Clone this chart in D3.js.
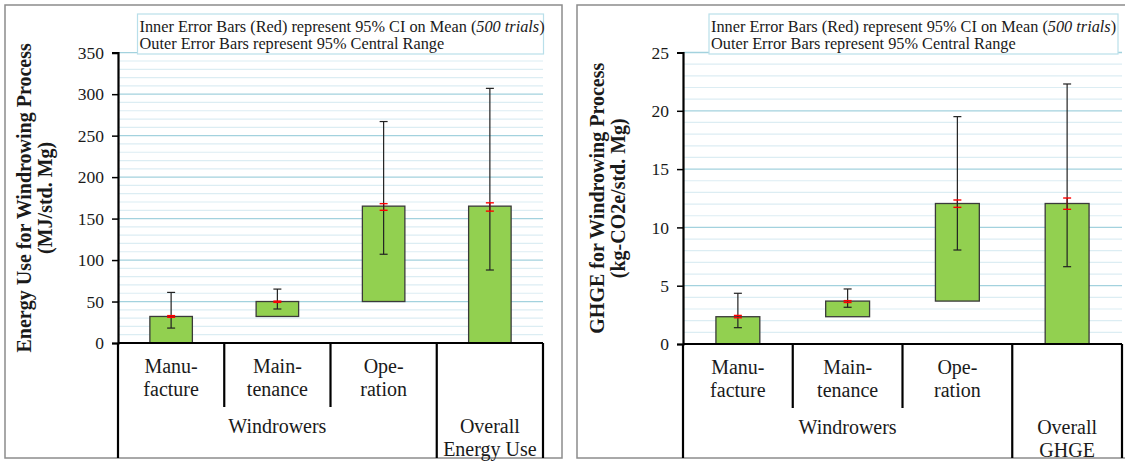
<!DOCTYPE html>
<html>
<head>
<meta charset="utf-8">
<script src="https://cdn.jsdelivr.net/npm/d3@7"></script>
<style>
  html, body { margin: 0; padding: 0; background: #fff; }
  svg { display: block; }
  text { font-family: "Liberation Serif", "DejaVu Serif", serif; fill: #1a1a1a; }
</style>
</head>
<body>
<svg id="chart" width="1125" height="461"></svg>
<script>
// Process stages (two text lines each) and their grouping on the category axis
const stageLabels = [["Manu-", "facture"], ["Main-", "tenance"], ["Ope-", "ration"], []];
const groupLabels = ["Windrowers"];
const energyTotalLabel = ["Overall", "Energy Use"];
const ghgeTotalLabel = ["Overall", "GHGE"];

// Energy use (MJ/std. Mg): floating bars from base to top, cumulative scale
const energyBase = [0, 32, 50, 0];
const energyTop = [32, 50, 165, 165];
const energyOuterLow = [18, 41, 107, 88];
const energyOuterHigh = [61, 65, 267, 307];
const energyInnerLow = [31, 49, 160, 159];
const energyInnerHigh = [33, 50.5, 168, 169];
const energyTicks = [0, 50, 100, 150, 200, 250, 300, 350];

// GHGE (kg-CO2e/std. Mg)
const ghgeBase = [0, 2.34, 3.68, 0];
const ghgeTop = [2.34, 3.68, 12.05, 12.05];
const ghgeOuterLow = [1.4, 3.15, 8.06, 6.63];
const ghgeOuterHigh = [4.35, 4.72, 19.5, 22.3];
const ghgeInnerLow = [2.25, 3.56, 11.72, 11.55];
const ghgeInnerHigh = [2.45, 3.72, 12.35, 12.52];
const ghgeTicks = [0, 5, 10, 15, 20, 25];

const legendLine1 = ["Inner Error Bars (Red) represent 95% CI on Mean (", "500 trials", ")"];
const legendLine2 = "Outer Error Bars represent 95% Central Range";

const svg = d3.select("#chart");

const LABEL_SIZE = 20;
const TICK_SIZE = 17.5;
const LEGEND_SIZE = 16.3;

const panels = [
  {
    frame: [5, 5, 557, 453],
    x: [118, 543], y: [343, 52.7],
    max: 350, ticks: energyTicks, minorStep: 10,
    base: energyBase, top: energyTop,
    outerLow: energyOuterLow, outerHigh: energyOuterHigh,
    innerLow: energyInnerLow, innerHigh: energyInnerHigh,
    title: ["Energy Use for Windrowing Process", "(MJ/std. Mg)"],
    titleX: [31, 52],
    total: energyTotalLabel,
    legend: [137.5, 14, 406, 40]
  },
  {
    frame: [577, 5, 560, 453],
    x: [683, 1122], y: [344, 52.5],
    max: 25, ticks: ghgeTicks, minorStep: 1,
    base: ghgeBase, top: ghgeTop,
    outerLow: ghgeOuterLow, outerHigh: ghgeOuterHigh,
    innerLow: ghgeInnerLow, innerHigh: ghgeInnerHigh,
    title: ["GHGE for Windrowing Process", "(kg-CO2e/std. Mg)"],
    titleX: [604, 625],
    total: ghgeTotalLabel,
    legend: [709, 14, 409, 40]
  }
];

panels.forEach(p => {
  const g = svg.append("g");
  const [fx, fy, fw, fh] = p.frame;
  const bottom = fy + fh;

  const y = d3.scaleLinear().domain([0, p.max]).range(p.y);
  const x = d3.scaleBand().domain(d3.range(4)).range(p.x).padding(0);
  const bw = x.bandwidth() * 0.4;
  const cx = i => x(i) + x.bandwidth() / 2;

  // outer frame
  g.append("rect")
    .attr("x", fx).attr("y", fy).attr("width", fw).attr("height", fh)
    .attr("fill", "#fff").attr("stroke", "#8c8c8c").attr("stroke-width", 1.5);

  // minor and major gridlines
  const minor = d3.range(0, p.max + 1e-9, p.minorStep).filter(v => !p.ticks.includes(v));
  g.append("g").selectAll("line").data(minor).join("line")
    .attr("x1", p.x[0]).attr("x2", p.x[1])
    .attr("y1", d => y(d)).attr("y2", d => y(d))
    .attr("stroke", "#dcedf3").attr("stroke-width", 1.2);
  g.append("g").selectAll("line").data(p.ticks.filter(t => t > 0)).join("line")
    .attr("x1", p.x[0]).attr("x2", p.x[1])
    .attr("y1", d => y(d)).attr("y2", d => y(d))
    .attr("stroke", "#a3d2de").attr("stroke-width", 1.3);

  // legend box
  const [lx, ly, lw, lh] = p.legend;
  g.append("rect").attr("x", lx).attr("y", ly).attr("width", lw).attr("height", lh)
    .attr("fill", "#fff").attr("stroke", "#b9dfea").attr("stroke-width", 1.2);
  const t1 = g.append("text").attr("x", lx + 2).attr("y", ly + 17.5)
    .attr("font-size", LEGEND_SIZE);
  t1.append("tspan").text(legendLine1[0]);
  t1.append("tspan").attr("font-style", "italic").text(legendLine1[1]);
  t1.append("tspan").text(legendLine1[2]);
  g.append("text").attr("x", lx + 2).attr("y", ly + 34.5)
    .attr("font-size", LEGEND_SIZE).text(legendLine2);

  // bars
  g.append("g").selectAll("rect").data(d3.range(4)).join("rect")
    .attr("x", i => cx(i) - bw / 2)
    .attr("width", bw)
    .attr("y", i => y(p.top[i]))
    .attr("height", i => y(p.base[i]) - y(p.top[i]))
    .attr("fill", "#92d050").attr("stroke", "#3a3a3a").attr("stroke-width", 1.3);

  // error bars: red inner stem, black outer bar, red inner caps on top
  const cap = 4;
  const eb = g.append("g");
  d3.range(4).forEach(i => {
    eb.append("line").attr("x1", cx(i)).attr("x2", cx(i))
      .attr("y1", y(p.innerLow[i])).attr("y2", y(p.innerHigh[i]))
      .attr("stroke", "#e00000").attr("stroke-width", 1.2);
    eb.append("line").attr("x1", cx(i)).attr("x2", cx(i))
      .attr("y1", y(p.outerLow[i])).attr("y2", y(p.outerHigh[i]))
      .attr("stroke", "#222").attr("stroke-width", 1.2);
    [p.outerLow[i], p.outerHigh[i]].forEach(v => {
      eb.append("line").attr("x1", cx(i) - cap).attr("x2", cx(i) + cap)
        .attr("y1", y(v)).attr("y2", y(v))
        .attr("stroke", "#222").attr("stroke-width", 1.2);
    });
    [p.innerLow[i], p.innerHigh[i]].forEach(v => {
      eb.append("line").attr("x1", cx(i) - cap).attr("x2", cx(i) + cap)
        .attr("y1", y(v)).attr("y2", y(v))
        .attr("stroke", "#ff0000").attr("stroke-width", 1.4);
    });
  });

  // y axis
  const yAxis = d3.axisLeft(y).tickValues(p.ticks).tickSize(6).tickPadding(8)
    .tickFormat(d3.format("d"));
  const ya = g.append("g").attr("transform", `translate(${p.x[0]},0)`).call(yAxis);
  ya.select(".domain").attr("stroke", "#000").attr("stroke-width", 2.2);
  ya.selectAll(".tick line").attr("stroke", "#000").attr("stroke-width", 1.5);
  ya.selectAll(".tick text").attr("font-size", TICK_SIZE).attr("fill", "#1a1a1a")
    .attr("font-family", "Liberation Serif");

  // category axis: baseline and divider lines
  g.append("line").attr("x1", p.x[0]).attr("x2", p.x[1])
    .attr("y1", y(0)).attr("y2", y(0))
    .attr("stroke", "#000").attr("stroke-width", 2.2);
  const longDiv = [0, 3, 4];
  const shortDiv = [1, 2];
  const divX = k => k === 4 ? p.x[1] : x(k);
  longDiv.forEach(k => g.append("line")
    .attr("x1", divX(k)).attr("x2", divX(k)).attr("y1", y(0)).attr("y2", bottom)
    .attr("stroke", "#000").attr("stroke-width", 2.2));
  shortDiv.forEach(k => g.append("line")
    .attr("x1", divX(k)).attr("x2", divX(k)).attr("y1", y(0)).attr("y2", y(0) + 64)
    .attr("stroke", "#000").attr("stroke-width", 2.2));

  // stage labels
  stageLabels.forEach((lines, i) => {
    lines.forEach((s, j) => g.append("text")
      .attr("x", cx(i)).attr("y", y(0) + 30 + j * 23)
      .attr("text-anchor", "middle").attr("font-size", LABEL_SIZE).text(s));
  });
  // group labels
  g.append("text").attr("x", (x(0) + x(3)) / 2).attr("y", y(0) + 90)
    .attr("text-anchor", "middle").attr("font-size", LABEL_SIZE).text(groupLabels[0]);
  p.total.forEach((s, j) => g.append("text")
    .attr("x", cx(3)).attr("y", y(0) + 90 + j * 23)
    .attr("text-anchor", "middle").attr("font-size", LABEL_SIZE).text(s));

  // y title (two rotated lines)
  const midY = (p.y[0] + p.y[1]) / 2;
  p.title.forEach((s, j) => g.append("text")
    .attr("transform", `translate(${p.titleX[j]},${midY}) rotate(-90)`)
    .attr("text-anchor", "middle").attr("font-size", LABEL_SIZE).attr("font-weight", "bold")
    .text(s));
});
</script>
</body>
</html>
